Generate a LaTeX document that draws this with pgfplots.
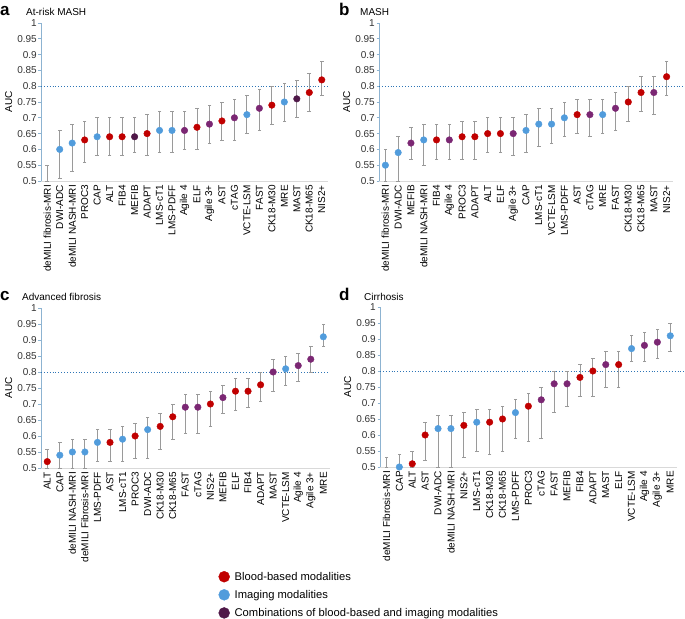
\documentclass[border=0pt]{standalone}
\usepackage{pgfplots}
\pgfplotsset{compat=1.18}
\usepackage{pgfplotstable}
\usepackage{fontspec}
\setmainfont{Liberation Sans}
\definecolor{cr}{HTML}{C00000}
\definecolor{cb}{HTML}{519CDC}
\definecolor{cp}{HTML}{7B2773}
\definecolor{cd}{HTML}{4F1848}
\definecolor{ebar}{HTML}{9A9A9A}
\definecolor{yax}{HTML}{8DB3D1}
\definecolor{xax}{HTML}{D9D9D9}
\definecolor{dline}{HTML}{2E75B6}
\newcommand{\fs}{\fontsize{10bp}{12bp}\selectfont}
\newcommand{\fl}{\fontsize{11.2bp}{13bp}\selectfont}

\pgfplotstableread{
x y lo hi c
0 0.50 0.50 0.55 n
1 0.60 0.51 0.66 b
2 0.62 0.53 0.68 b
3 0.63 0.56 0.69 r
4 0.64 0.58 0.70 b
5 0.64 0.58 0.70 r
6 0.64 0.58 0.70 r
7 0.64 0.59 0.70 d
8 0.65 0.58 0.71 r
9 0.66 0.59 0.72 b
10 0.66 0.59 0.72 b
11 0.66 0.60 0.72 p
12 0.67 0.60 0.73 r
13 0.68 0.62 0.74 p
14 0.69 0.63 0.75 r
15 0.70 0.63 0.76 p
16 0.71 0.65 0.77 b
17 0.73 0.66 0.79 p
18 0.74 0.68 0.80 r
19 0.75 0.69 0.81 b
20 0.76 0.70 0.82 d
21 0.78 0.72 0.84 r
22 0.82 0.77 0.88 r
}\ta

\pgfplotstableread{
x y lo hi c
0 0.55 0.50 0.60 b
1 0.59 0.50 0.64 b
2 0.62 0.57 0.67 p
3 0.63 0.55 0.68 b
4 0.63 0.57 0.68 r
5 0.63 0.57 0.68 p
6 0.64 0.57 0.69 r
7 0.64 0.57 0.69 r
8 0.65 0.59 0.70 r
9 0.65 0.59 0.70 r
10 0.65 0.58 0.70 p
11 0.66 0.59 0.71 b
12 0.68 0.61 0.73 b
13 0.68 0.62 0.73 b
14 0.70 0.64 0.75 b
15 0.71 0.65 0.76 r
16 0.71 0.64 0.76 p
17 0.71 0.65 0.76 b
18 0.73 0.66 0.78 p
19 0.75 0.69 0.80 r
20 0.78 0.72 0.83 r
21 0.78 0.71 0.83 p
22 0.83 0.77 0.88 r
}\tb

\pgfplotstableread{
x y lo hi c
0 0.52 0.50 0.56 r
1 0.54 0.50 0.58 b
2 0.55 0.50 0.59 b
3 0.55 0.50 0.59 b
4 0.58 0.52 0.62 b
5 0.58 0.52 0.62 r
6 0.59 0.52 0.63 b
7 0.60 0.53 0.64 r
8 0.62 0.53 0.66 b
9 0.63 0.56 0.67 r
10 0.66 0.59 0.70 r
11 0.69 0.61 0.73 p
12 0.69 0.61 0.73 p
13 0.70 0.63 0.74 r
14 0.72 0.67 0.76 p
15 0.74 0.68 0.78 r
16 0.74 0.69 0.78 r
17 0.76 0.71 0.80 r
18 0.80 0.74 0.84 p
19 0.81 0.76 0.85 b
20 0.82 0.77 0.86 p
21 0.84 0.80 0.88 p
22 0.91 0.88 0.95 b
}\tc

\pgfplotstableread{
x y lo hi c
0 0.50 0.50 0.53 n
1 0.50 0.50 0.54 b
2 0.51 0.50 0.55 r
3 0.60 0.52 0.64 r
4 0.62 0.50 0.66 b
5 0.62 0.50 0.66 b
6 0.63 0.53 0.67 r
7 0.64 0.55 0.68 b
8 0.64 0.54 0.68 r
9 0.65 0.55 0.69 r
10 0.67 0.59 0.71 b
11 0.69 0.58 0.73 r
12 0.71 0.59 0.75 p
13 0.76 0.67 0.80 p
14 0.76 0.69 0.80 p
15 0.78 0.72 0.82 r
16 0.80 0.72 0.84 r
17 0.82 0.75 0.86 p
18 0.82 0.75 0.86 r
19 0.87 0.83 0.91 b
20 0.88 0.83 0.92 p
21 0.89 0.84 0.93 p
22 0.91 0.86 0.95 b
}\td

\pgfplotsset{
 panel/.style={
  scale only axis, anchor=south west, clip=false,
  xmin=-0.5, xmax=22.5, ymin=0.5, ymax=1,
  axis x line*=bottom, axis y line*=left,
  x axis line style={draw=xax, line width=0.8pt, -},
  y axis line style={draw=yax, line width=0.8pt, -},
  xtick={0,...,22}, x tick style={draw=none},
  ytick={0.5,0.55,0.6,0.65,0.7,0.75,0.8,0.85,0.9,0.95,1},
  yticklabels={0.5,0.55,0.6,0.65,0.7,0.75,0.8,0.85,0.9,0.95,1},
  y tick style={draw=yax, line width=0.6pt},
  tick align=outside, major tick length=2.5bp,
  xticklabel style={rotate=90, anchor=east, font=\fs, inner sep=1.5bp},
  yticklabel style={font=\fs, inner sep=1.5bp, text=black!80},
  ylabel={AUC}, ylabel style={font=\fs},
 },
 ebars/.style={draw=none, mark=none, forget plot,
   error bars/.cd, y dir=both, y explicit, error mark=none,
   error bar style={draw=ebar, line width=0.9pt, solid}},
 caps/.style={only marks, forget plot, mark=-, mark size=1.8pt,
   mark options={draw=ebar, line width=0.6pt}},
 pts/.style={only marks, forget plot, scatter, scatter src=explicit symbolic,
   mark=*, mark size=3.3pt,
   scatter/classes={r={draw=cr,fill=cr}, b={draw=cb,fill=cb}, p={draw=cp,fill=cp}, d={draw=cd,fill=cd}, n={draw=none,fill=none}}},
 dl/.style={draw=dline, dotted, line width=0.9pt, forget plot, mark=none},
}

\begin{document}
\begin{tikzpicture}
\path[use as bounding box] (0,0) rectangle (685bp,619bp);

% panel a
\node[anchor=base west, inner sep=0pt, font=\bfseries\fontsize{17bp}{17bp}\selectfont] at (0bp,603bp) {a};
\node[anchor=base west, inner sep=0pt, font=\fs] at (26bp,603bp) {At-risk MASH};
\begin{axis}[panel, at={(41bp,438bp)}, width=287bp, height=158bp,
  xticklabels={deMILI fibrosis-MRI,DWI-ADC,deMILI NASH-MRI,PROC3,CAP,ALT,FIB4,MEFIB,ADAPT,LMS-cT1,LMS-PDFF,Agile 4,ELF,Agile 3+,AST,cTAG,VCTE-LSM,FAST,CK18-M30,MRE,MAST,CK18-M65,NIS2+}]
\addplot[dl] coordinates {(-0.5,0.8) (22.5,0.8)};
\addplot[ebars] table[x=x,y=y,y error plus expr=\thisrow{hi}-\thisrow{y},y error minus expr=\thisrow{y}-\thisrow{lo}] {\ta};
\addplot[caps] table[x=x,y=hi] {\ta};
\addplot[caps] table[x=x,y=lo] {\ta};
\addplot[pts, skip coords between index={0}{1}] table[x=x,y=y,meta=c] {\ta};
\end{axis}

% panel b
\node[anchor=base west, inner sep=0pt, font=\bfseries\fontsize{17bp}{17bp}\selectfont] at (339bp,603bp) {b};
\node[anchor=base west, inner sep=0pt, font=\fs] at (360bp,603bp) {MASH};
\begin{axis}[panel, at={(379bp,438bp)}, width=294bp, height=158bp,
  xticklabels={deMILI fibrosis-MRI,DWI-ADC,MEFIB,deMILI NASH-MRI,FIB4,Agile 4,PROC3,ADAPT,ALT,ELF,Agile 3+,CAP,LMS-cT1,VCTE-LSM,LMS-PDFF,AST,cTAG,MRE,FAST,CK18-M30,CK18-M65,MAST,NIS2+}]
\addplot[dl] coordinates {(-0.5,0.8) (23.45,0.8)};
\addplot[ebars] table[x=x,y=y,y error plus expr=\thisrow{hi}-\thisrow{y},y error minus expr=\thisrow{y}-\thisrow{lo}] {\tb};
\addplot[caps] table[x=x,y=hi] {\tb};
\addplot[caps] table[x=x,y=lo] {\tb};
\addplot[pts] table[x=x,y=y,meta=c] {\tb};
\end{axis}

% panel c
\node[anchor=base west, inner sep=0pt, font=\bfseries\fontsize{17bp}{17bp}\selectfont] at (0bp,318bp) {c};
\node[anchor=base west, inner sep=0pt, font=\fs] at (22bp,318bp) {Advanced fibrosis};
\begin{axis}[panel, at={(41bp,151bp)}, width=288.6bp, height=160bp,
  xticklabels={ALT,CAP,deMILI NASH-MRI,deMILI Fibrosis-MRI,LMS-PDFF,AST,LMS-cT1,PROC3,DWI-ADC,CK18-M30,CK18-M65,FAST,cTAG,NIS2+,MEFIB,ELF,FIB4,ADAPT,MAST,VCTE-LSM,Agile 4,Agile 3+,MRE},
  legend style={at={(0.615,-0.628)}, anchor=north west, draw=none, fill=none, inner sep=0pt, row sep=2bp,
     /tikz/every odd column/.append style={column sep=3bp},
     nodes={inner sep=2bp, font=\fl, text height=9.5bp, text depth=2.6bp, anchor=west}},
  legend cell align=left]
\addplot[dl] coordinates {(-0.5,0.8) (22.5,0.8)};
\addplot[ebars] table[x=x,y=y,y error plus expr=\thisrow{hi}-\thisrow{y},y error minus expr=\thisrow{y}-\thisrow{lo}] {\tc};
\addplot[caps] table[x=x,y=hi] {\tc};
\addplot[caps] table[x=x,y=lo] {\tc};
\addplot[pts] table[x=x,y=y,meta=c] {\tc};
\addlegendimage{only marks, mark=*, mark size=5.5pt, draw=cr, fill=cr}
\addlegendentry{Blood-based modalities}
\addlegendimage{only marks, mark=*, mark size=5.5pt, draw=cb, fill=cb}
\addlegendentry{Imaging modalities}
\addlegendimage{only marks, mark=*, mark size=5.5pt, draw=cd, fill=cd}
\addlegendentry{Combinations of blood-based and imaging modalities}
\end{axis}

% panel d
\node[anchor=base west, inner sep=0pt, font=\bfseries\fontsize{17bp}{17bp}\selectfont] at (339bp,318bp) {d};
\node[anchor=base west, inner sep=0pt, font=\fs] at (364bp,318bp) {Cirrhosis};
\begin{axis}[panel, at={(380bp,152bp)}, width=296.7bp, height=160bp,
  xticklabels={deMILI Fibrosis-MRI,CAP,ALT,AST,DWI-ADC,deMILI NASH-MRI,NIS2+,LMS-cT1,CK18-M30,CK18-M65,LMS-PDFF,PROC3,cTAG,FAST,MEFIB,FIB4,ADAPT,MAST,ELF,VCTE-LSM,Agile 4,Agile 3+,MRE}]
\addplot[dl] coordinates {(-0.5,0.8) (23.1,0.8)};
\addplot[ebars] table[x=x,y=y,y error plus expr=\thisrow{hi}-\thisrow{y},y error minus expr=\thisrow{y}-\thisrow{lo}] {\td};
\addplot[caps] table[x=x,y=hi] {\td};
\addplot[caps] table[x=x,y=lo] {\td};
\addplot[pts, skip coords between index={0}{1}] table[x=x,y=y,meta=c] {\td};
\end{axis}
\end{tikzpicture}
\end{document}
